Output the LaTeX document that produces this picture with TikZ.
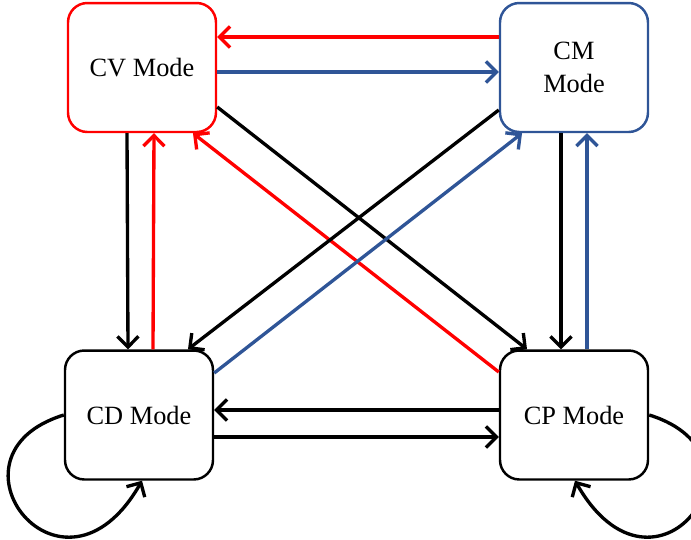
\documentclass[tikz,border=0pt]{standalone}
\usepackage{fontspec}
\setmainfont{Liberation Serif}
\usetikzlibrary{arrows.meta}
\definecolor{cmblue}{RGB}{47,85,151}
\tikzset{
  mode/.style={draw, line width=1.4pt, rounded corners=11pt, minimum width=2.96cm,
    minimum height=2.58cm, inner sep=0pt, align=center, font=\fontsize{15}{19}\selectfont},
  arr/.style={line width=1.9pt, -{Straight Barb[length=6pt,width=12pt,line width=1.9pt]}}
}
\begin{document}
\begin{tikzpicture}[x=0.02cm, y=-0.02cm]
  \useasboundingbox (0,0) rectangle (691,539);
  % the four mode boxes
  \node[mode, red] (cv) at (142,67.5) {\color{black}CV Mode};
  \node[mode, cmblue] (cm) at (574,67.5) {\color{black}CM\\\color{black}Mode};
  \node[mode] (cd) at (139,415) {CD Mode};
  \node[mode] (cp) at (574,415) {CP Mode};
  % top pair
  \draw[arr, red] ([yshift=0.61cm]cm.west) -- ([yshift=0.61cm]cv.east);
  \draw[arr, cmblue] ([yshift=-0.09cm]cv.east) -- ([yshift=-0.09cm]cm.west);
  % left pair
  \draw[arr] ([xshift=-0.3cm]cv.south) -- ([xshift=-0.22cm]cd.north);
  \draw[arr, red] ([xshift=0.28cm]cd.north) -- ([xshift=0.24cm]cv.south);
  % right pair
  \draw[arr] ([xshift=-0.26cm]cm.south) -- ([xshift=-0.26cm]cp.north);
  \draw[arr, cmblue] ([xshift=0.26cm]cp.north) -- ([xshift=0.26cm]cm.south);
  % bottom pair
  \draw[arr] ([yshift=0.1cm]cp.west) -- ([yshift=0.1cm]cd.east);
  \draw[arr] ([yshift=-0.44cm]cd.east) -- ([yshift=-0.44cm]cp.west);
  % diagonals
  \draw[arr] ([yshift=-0.79cm]cv.east) -- ([xshift=-0.94cm]cp.north);
  \draw[arr, red] ([yshift=0.86cm]cp.west) -- ([xshift=1.02cm]cv.south);
  \draw[arr] ([yshift=-0.85cm]cm.west) -- ([xshift=0.98cm]cd.north);
  \draw[arr, cmblue] ([yshift=0.84cm]cd.east) -- ([xshift=-1.04cm]cm.south);
  % self loops
  \draw[arr] (cd.west) .. controls +(-130,40) and +(-80,140) .. ([xshift=0.06cm]cd.south);
  \draw[arr] (cp.east) .. controls +(130,40) and +(80,140) .. ([xshift=0.02cm]cp.south);
\end{tikzpicture}
\end{document}
